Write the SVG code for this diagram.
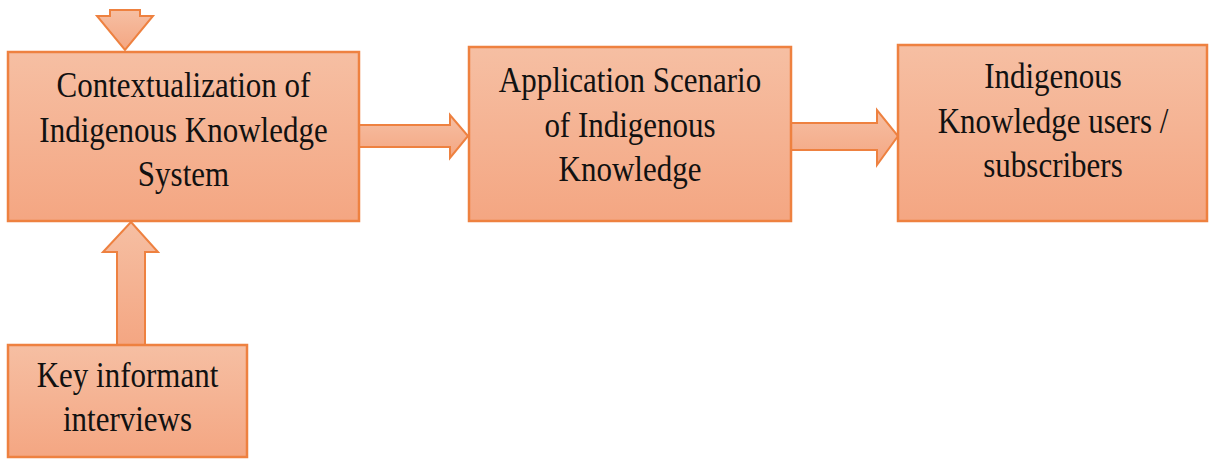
<svg xmlns="http://www.w3.org/2000/svg" width="1209" height="460" viewBox="0 0 1209 460">
<defs>
<linearGradient id="g" x1="0" y1="0" x2="0" y2="1">
<stop offset="0" stop-color="#f6bfa3"/>
<stop offset="1" stop-color="#f4a682"/>
</linearGradient>
<style>
.box{fill:url(#g);stroke:#ee8140;stroke-width:2.5}
.arr{fill:url(#g);stroke:#ee8140;stroke-width:2;stroke-linejoin:miter}
.t{font-family:'Liberation Serif',Tinos,'Times New Roman','DejaVu Serif',serif;font-size:31px;fill:#111;text-anchor:middle}
</style>
</defs>
<rect width="1209" height="460" fill="#fff"/>
<g id="connectors">
<polygon class="arr" points="110,10 140,10 140,16 153,16 125,50 97,16 110,16"/>
<polygon class="arr" points="117,345 145,345 145,252 158,252 131,222 103,252 117,252"/>
<polygon class="arr" points="359,125 450,125 450,115 468,136 450,158 450,147 359,147"/>
<polygon class="arr" points="791,123 877,123 877,110 898,136 877,165 877,150 791,150"/>
</g>
<g id="contextualization">
<rect class="box" x="8" y="52" width="351" height="169"/>
<text class="t" transform="translate(183.5,97) scale(1,1.15)">Contextualization of</text>
<text class="t" transform="translate(183.5,142) scale(1,1.15)">Indigenous Knowledge</text>
<text class="t" transform="translate(183.5,186) scale(1,1.15)">System</text>
</g>
<g id="application">
<rect class="box" x="469" y="47" width="322" height="174"/>
<text class="t" transform="translate(630,92) scale(1,1.15)">Application Scenario</text>
<text class="t" transform="translate(630,137) scale(1,1.15)">of Indigenous</text>
<text class="t" transform="translate(630,181) scale(1,1.15)">Knowledge</text>
</g>
<g id="users">
<rect class="box" x="898" y="45" width="309" height="176"/>
<text class="t" transform="translate(1053,88) scale(1,1.15)">Indigenous</text>
<text class="t" transform="translate(1053,133) scale(1,1.15)">Knowledge users /</text>
<text class="t" transform="translate(1053,177) scale(1,1.15)">subscribers</text>
</g>
<g id="key-informant">
<rect class="box" x="8" y="345" width="239" height="112"/>
<text class="t" transform="translate(127.5,387) scale(1,1.15)">Key informant</text>
<text class="t" transform="translate(127.5,431) scale(1,1.15)">interviews</text>
</g>
</svg>
